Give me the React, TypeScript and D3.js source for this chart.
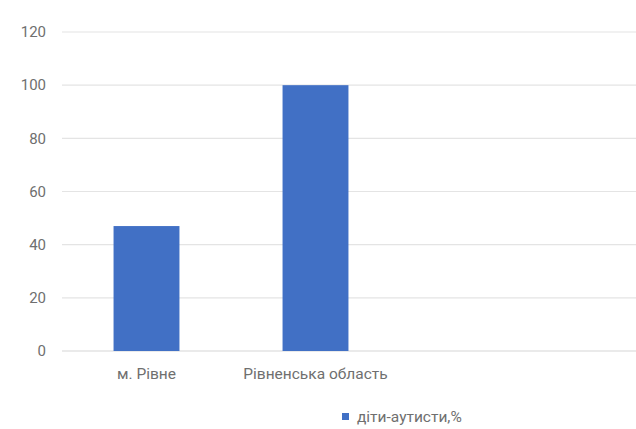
import React from "react";
import * as d3 from "d3";

const categories = ["м. Рівне", "Рівненська область"];
const values = [47, 100];
const yTicks = [0, 20, 40, 60, 80, 100, 120];
const seriesName = "діти-аутисти,%";

export default function App() {
  const W = 636, H = 429;
  const left = 62, right = 636, top = 32, bottom = 351;
  const y = d3.scaleLinear().domain([0, 120]).range([bottom, top]);
  const x = d3.scaleBand<string>().domain(categories).range([left, 400]).paddingInner(0.61).paddingOuter(0.305);
  const font = "Roboto, 'Noto Sans', sans-serif";
  const textColor = "#6f6f6f";
  return (
    <svg width={W} height={H} style={{ position: "absolute", left: 0, top: 0, background: "#fff" }}>
      {yTicks.map(t => (
        <g key={t}>
          <line x1={left} x2={right} y1={y(t)} y2={y(t)} stroke={t === 0 ? "#d6d6d6" : "#e4e4e4"} strokeWidth={1.2} />
          <text x={46} y={y(t)} dy="0.35em" textAnchor="end" fontFamily={font} fontSize={15} fill={textColor}>{t}</text>
        </g>
      ))}
      {categories.map((c, i) => (
        <g key={c}>
          <rect x={x(c)} y={y(values[i])} width={x.bandwidth()} height={y(0) - y(values[i])} fill="#4170c5" />
          <text x={(x(c) as number) + x.bandwidth() / 2} y={379} textAnchor="middle" fontFamily={font} fontSize={15.5} fill={textColor}>{c}</text>
        </g>
      ))}
      <rect x={342} y={413} width={7} height={7} fill="#4170c5" />
      <text x={357} y={422} fontFamily={font} fontSize={15.5} fill={textColor}>{seriesName}</text>
    </svg>
  );
}
